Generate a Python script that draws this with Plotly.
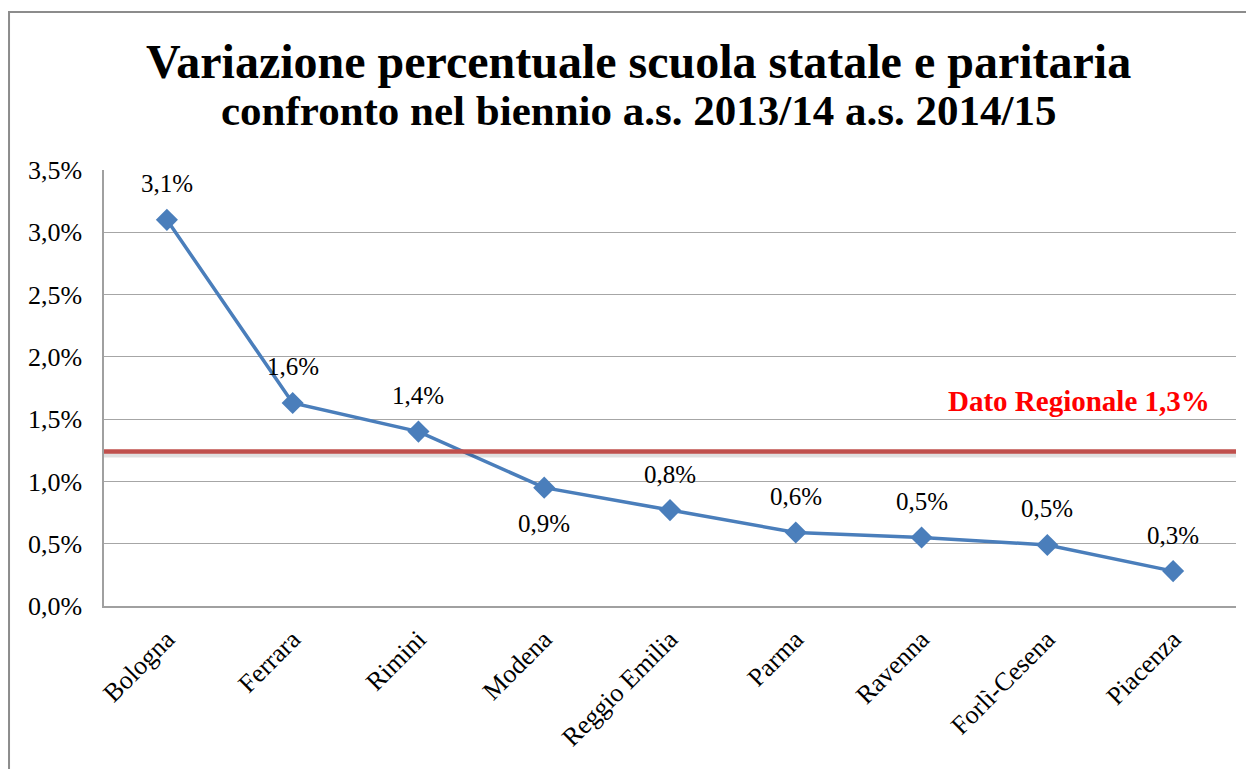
import plotly.graph_objects as go

provinces = ["Bologna", "Ferrara", "Rimini", "Modena", "Reggio Emilia",
             "Parma", "Ravenna", "Forlì-Cesena", "Piacenza"]
variation = [0.0310, 0.0163, 0.0140, 0.0095, 0.0077, 0.0059, 0.0055, 0.0049, 0.0028]
value_labels = ["3,1%", "1,6%", "1,4%", "0,9%", "0,8%", "0,6%", "0,5%", "0,5%", "0,3%"]
label_side = ["above", "above", "above", "below", "above", "above", "above", "above", "above"]
regional_value = 0.0124
regional_label = "Dato Regionale 1,3%"
title_line1 = "Variazione percentuale scuola statale e paritaria"
title_line2 = "confronto nel biennio a.s. 2013/14 a.s. 2014/15"
y_ticks = [0, 0.005, 0.010, 0.015, 0.020, 0.025, 0.030, 0.035]

FONT = "Liberation Serif, Times New Roman, serif"

fig = go.Figure()
fig.add_trace(go.Scatter(
    x=provinces, y=variation, mode="lines+markers",
    line=dict(color="#4A7EBB", width=3.5),
    marker=dict(symbol="diamond", size=17, color="#4A7EBB"),
    showlegend=False, hoverinfo="skip",
))

annotations = []
for p, v, lab, side in zip(provinces, variation, value_labels, label_side):
    annotations.append(dict(
        x=p, y=v, xref="x", yref="y", text=lab, showarrow=False,
        yshift=36 if side == "above" else -36,
        font=dict(family=FONT, size=25, color="#000000"),
    ))

annotations.append(dict(
    x=0.9788, xref="paper", y=0.01645, yref="y", xanchor="right", yanchor="middle",
    text="<b>" + regional_label + "</b>", showarrow=False,
    font=dict(family=FONT, size=29, color="#FF0000"),
))
annotations.append(dict(
    x=0.4726, xref="paper", y=1.2500, yref="paper", xanchor="center", yanchor="middle",
    text="<b>" + title_line1 + "</b>", showarrow=False,
    font=dict(family=FONT, size=48, color="#000000"),
))
annotations.append(dict(
    x=0.4726, xref="paper", y=1.1376, yref="paper", xanchor="center", yanchor="middle",
    text="<b>" + title_line2 + "</b>", showarrow=False,
    font=dict(family=FONT, size=43, color="#000000"),
))

fig.update_layout(
    width=1254, height=769,
    margin=dict(l=96, r=26, t=162, b=171),
    paper_bgcolor="white", plot_bgcolor="white",
    separators=",.",
    xaxis=dict(
        range=[-0.5, 8.5], showgrid=False, showline=True, linecolor="#A0A0A0", linewidth=1.5,
        tickangle=-45, ticks="", ticklabelstandoff=6,
        tickfont=dict(family=FONT, size=26, color="#000000"),
        fixedrange=True,
    ),
    yaxis=dict(
        range=[0, 0.035], tickvals=y_ticks, tickformat=".1%",
        showgrid=True, gridcolor="#A6A6A6", gridwidth=1.2,
        showline=True, linecolor="#A0A0A0", linewidth=1.5, zeroline=False,
        ticks="", ticklabelstandoff=15,
        tickfont=dict(family=FONT, size=26, color="#000000"),
        fixedrange=True,
    ),
    annotations=annotations,
    shapes=[
        dict(type="rect", xref="paper", yref="paper",
             x0=-0.0839, x1=1.1, y0=-0.5, y1=1.3624,
             line=dict(color="#8C8C8C", width=2), fillcolor="rgba(0,0,0,0)", layer="below"),
        dict(type="line", xref="paper", yref="y", x0=0, x1=1,
             y0=regional_value - 0.0002, y1=regional_value - 0.0002,
             line=dict(color="rgba(0,0,0,0.12)", width=7), layer="above"),
        dict(type="line", xref="paper", yref="y", x0=0, x1=1,
             y0=regional_value, y1=regional_value,
             line=dict(color="#C0504D", width=4.5), layer="above"),
    ],
)

fig.write_html("out.html")
